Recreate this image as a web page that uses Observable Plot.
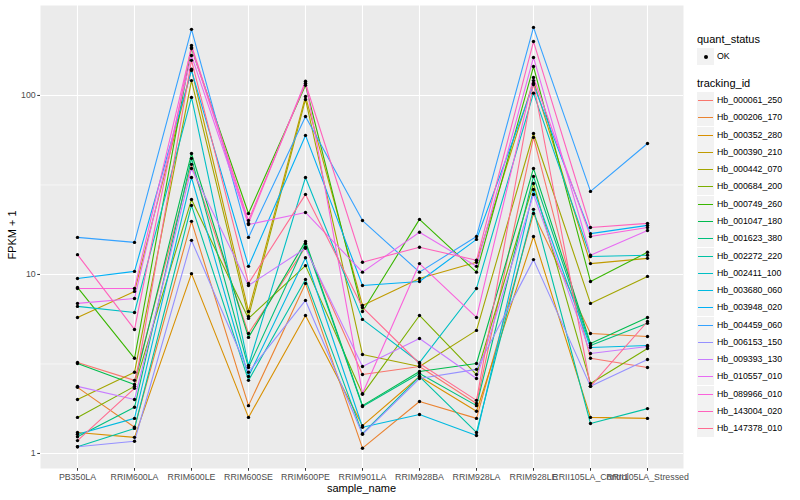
<!DOCTYPE html>
<html><head><meta charset="utf-8">
<script src="https://cdn.jsdelivr.net/npm/d3@7"></script>
<script src="https://cdn.jsdelivr.net/npm/@observablehq/plot@0.6"></script>
<style>
body{margin:0;background:#fff;font-family:"Liberation Sans",Arial,sans-serif;}
#wrap{position:relative;width:800px;height:500px;overflow:hidden;}
.t{position:absolute;white-space:nowrap;color:#000;}
.key{position:absolute;width:17px;height:17px;background:#F2F2F2;}
.key i{position:absolute;left:1px;width:15px;top:8px;height:1px;}
.key b{position:absolute;left:7px;top:7px;width:4px;height:4px;border-radius:50%;background:#000;}
</style></head><body><div id="wrap"></div>
<script>
const samples = ["PB350LA","RRIM600LA","RRIM600LE","RRIM600SE","RRIM600PE","RRIM901LA","RRIM928BA","RRIM928LA","RRIM928LE","RRII105LA_Control","RRII105LA_Stressed"];
const ids = ["Hb_000061_250","Hb_000206_170","Hb_000352_280","Hb_000390_210","Hb_000442_070","Hb_000684_200","Hb_000749_260","Hb_001047_180","Hb_001623_380","Hb_002272_220","Hb_002411_100","Hb_003680_060","Hb_003948_020","Hb_004459_060","Hb_006153_150","Hb_009393_130","Hb_010557_010","Hb_089966_010","Hb_143004_020","Hb_147378_010"];
const colors = ["#F8766D","#EA8331","#D89000","#C09B00","#A3A500","#7CAE00","#39B600","#00BB4E","#00BF7D","#00C1A3","#00BFC4","#00BAE0","#00B0F6","#35A2FF","#9590FF","#C77CFF","#E76BF3","#FA62DB","#FF62BC","#FF6C91"];

// FPKM + 1 per sample, one array per tracking_id
const Hb_000061_250 = [3.22, 2.56, 41.2, 4.68, 14.2, 2.76, 3.06, 1.90, 58.3, 3.40, 3.02];
const Hb_000206_170 = [2.34, 1.40, 19.8, 1.85, 8.91, 1.07, 1.95, 1.57, 21.9, 4.68, 4.50];
const Hb_000352_280 = [1.31, 1.23, 10.1, 1.59, 5.90, 1.43, 2.69, 1.72, 16.3, 1.59, 1.57];
const Hb_000390_210 = [5.75, 8.04, 140, 6.21, 98.7, 6.71, 9.50, 11.7, 121, 11.5, 12.3];
const Hb_000442_070 = [2.00, 2.84, 121, 5.82, 95.0, 3.57, 3.06, 4.87, 61.3, 6.89, 9.75];
const Hb_000684_200 = [1.59, 2.37, 26.2, 5.68, 11.2, 2.14, 5.90, 2.76, 32.2, 2.46, 3.86];
const Hb_000749_260 = [8.46, 3.40, 183, 21.9, 114, 6.21, 20.3, 10.3, 145, 9.14, 13.3];
const Hb_001047_180 = [3.18, 2.43, 47.4, 4.45, 15.3, 1.85, 2.87, 3.18, 39.1, 4.12, 5.75];
const Hb_001623_380 = [1.24, 1.81, 44.5, 3.02, 14.9, 1.83, 2.80, 1.85, 35.3, 4.01, 5.33];
const Hb_002272_220 = [1.09, 1.38, 24.3, 2.56, 9.38, 1.29, 2.69, 1.31, 23.1, 1.47, 1.78];
const Hb_002411_100 = [6.63, 6.13, 97.5, 3.10, 34.8, 5.61, 3.22, 8.35, 103, 12.6, 12.8];
const Hb_003680_060 = [1.28, 1.57, 34.8, 2.69, 12.4, 1.40, 1.65, 1.26, 29.8, 3.91, 4.01];
const Hb_003948_020 = [9.50, 10.4, 138, 11.1, 59.8, 8.68, 9.14, 15.7, 115, 16.9, 18.8];
const Hb_004459_060 = [16.1, 15.1, 234, 16.1, 76.3, 20.0, 10.3, 16.3, 240, 29.1, 53.9];
const Hb_006153_150 = [1.09, 1.17, 15.5, 2.84, 7.16, 1.28, 2.62, 2.95, 12.1, 2.37, 3.35];
const Hb_009393_130 = [2.37, 2.00, 39.1, 8.68, 14.0, 3.06, 4.39, 2.62, 28.0, 3.62, 3.96];
const Hb_010557_010 = [6.89, 7.34, 167, 19.0, 22.2, 10.3, 17.2, 11.1, 163, 12.8, 17.6];
const Hb_089966_010 = [8.35, 8.35, 185, 19.3, 120, 2.16, 11.5, 5.75, 126, 16.3, 18.3];
const Hb_143004_020 = [12.9, 4.93, 190, 20.0, 117, 11.7, 14.2, 12.0, 200, 18.3, 19.3];
const Hb_147378_010 = [1.18, 2.31, 157, 8.91, 28.0, 6.54, 3.18, 1.98, 117, 2.37, 5.46];

const series = [Hb_000061_250,Hb_000206_170,Hb_000352_280,Hb_000390_210,Hb_000442_070,Hb_000684_200,Hb_000749_260,Hb_001047_180,Hb_001623_380,Hb_002272_220,Hb_002411_100,Hb_003680_060,Hb_003948_020,Hb_004459_060,Hb_006153_150,Hb_009393_130,Hb_010557_010,Hb_089966_010,Hb_143004_020,Hb_147378_010];
const majorBreaks = [1, 10, 100];
const minorBreaks = [3.1623, 31.623];

const table = [];
ids.forEach((id, i) => series[i].forEach((v, j) => table.push({id, sample: samples[j], value: v, quant_status: "OK"})));

const chart = Plot.plot({
  width: 800, height: 500,
  marginLeft: 40, marginRight: 117, marginTop: 5, marginBottom: 32,
  style: {fontFamily: "'Liberation Sans', Arial, sans-serif", fontSize: "8.8px", color: "#4D4D4D", background: "white"},
  x: {type: "point", domain: samples, padding: 0.6, label: null},
  y: {type: "log", domain: [0.824, 318], label: null},
  color: {domain: ids, range: colors},
  marks: [
    Plot.frame({fill: "#EBEBEB", stroke: null}),
    Plot.ruleY(minorBreaks, {stroke: "white", strokeWidth: 0.55}),
    Plot.ruleY(majorBreaks, {stroke: "white", strokeWidth: 1.1}),
    Plot.ruleX(samples, {stroke: "white", strokeWidth: 1.1}),
    Plot.line(table, {x: "sample", y: "value", z: "id", stroke: "id", strokeWidth: 1.1}),
    Plot.dot(table, {x: "sample", y: "value", fill: "black", stroke: null, r: 1.7}),
    Plot.axisX({tickSize: 2.75, tickPadding: 2, label: null, stroke: "#333333"}),
    Plot.axisY({ticks: majorBreaks, tickSize: 2.75, tickPadding: 2, tickFormat: d => String(d), label: null, stroke: "#333333"})
  ]
});
const wrap = document.getElementById("wrap");
chart.style.position = "absolute"; chart.style.left = "0"; chart.style.top = "0";
wrap.appendChild(chart);

function addText(txt, x, y, size, extra) {
  const d = document.createElement("div");
  d.className = "t"; d.textContent = txt;
  d.style.left = x + "px"; d.style.top = y + "px"; d.style.fontSize = size + "px";
  if (extra) Object.assign(d.style, extra);
  wrap.appendChild(d); return d;
}
// axis titles
addText("sample_name", 0, 482, 11, {width: "643px", left: "40px", textAlign: "center"});
addText("FPKM + 1", -38, 229, 11, {width: "100px", textAlign: "center", transform: "rotate(-90deg)"});
// legend
addText("quant_status", 697, 33, 11);
const k0 = document.createElement("div"); k0.className = "key"; k0.style.left = "697px"; k0.style.top = "48px";
k0.appendChild(document.createElement("b")); wrap.appendChild(k0);
addText("OK", 717, 51, 8.8);
addText("tracking_id", 697, 77, 11);
ids.forEach((id, i) => {
  const top = Math.round(92 + i * 17.28);
  const k = document.createElement("div"); k.className = "key";
  k.style.left = "697px"; k.style.top = top + "px";
  const ln = document.createElement("i"); ln.style.background = colors[i]; k.appendChild(ln);
  wrap.appendChild(k);
  addText(id, 717, top + 3, 8.8);
});
</script></body></html>
